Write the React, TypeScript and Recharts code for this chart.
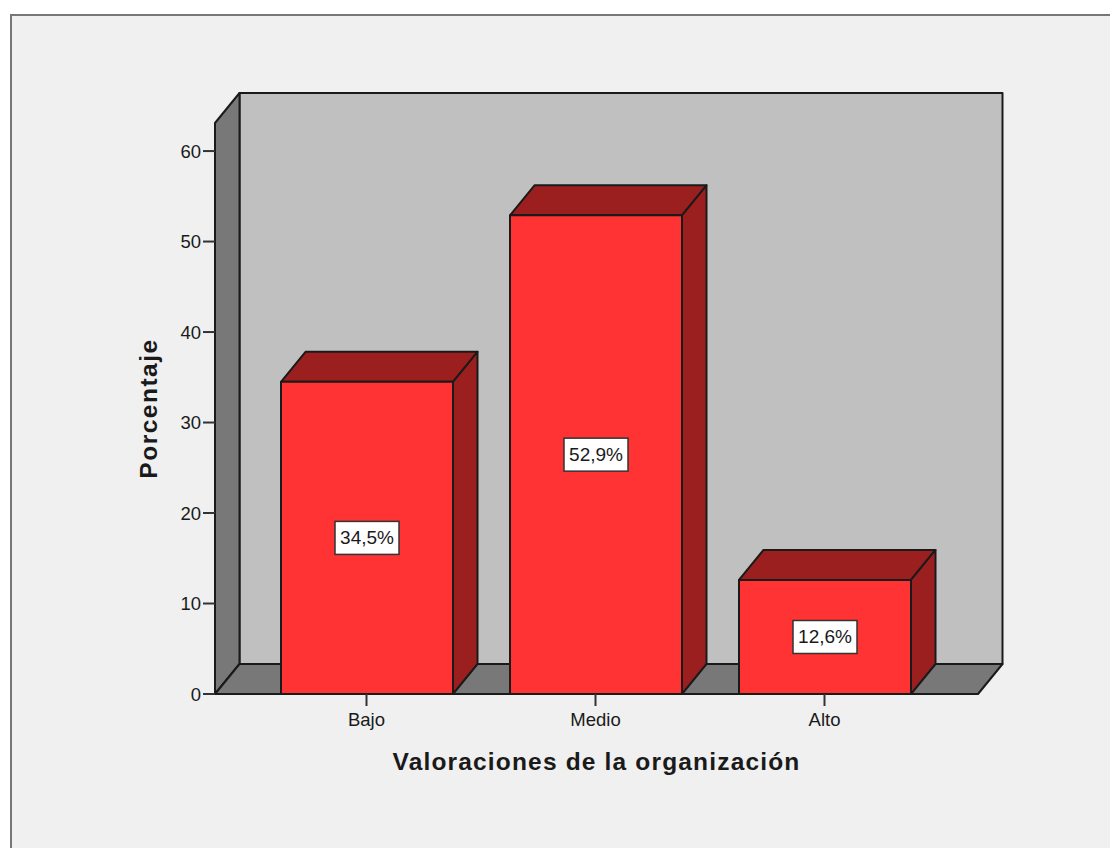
import React from "react";
import {
  BarChart,
  Bar,
  XAxis,
  YAxis,
  LabelList,
  ReferenceArea,
} from "recharts";

const categories = ["Bajo", "Medio", "Alto"];
const percentages = [34.5, 52.9, 12.6];
const yTicks = [0, 10, 20, 30, 40, 50, 60];
const Y_MAX = 63.1;

const data = categories.map((name, i) => ({ name, value: percentages[i] }));

// depth of the fake 3D projection
const DX = 24.5;
const DY = 30;
const PAD_LEFT = 37;
const PAD_RIGHT = 39;
const EDGE = "#1a1a1a";
const FONT = "'Liberation Sans', Arial, sans-serif";

// side wall, floor and back wall behind the bars
// the area only spans the padded range of the x axis, so widen it back out
const Walls = ({ x: areaX, y, width: areaWidth, height }: any) => {
  const x = areaX - PAD_LEFT;
  const right = areaX + areaWidth + PAD_RIGHT;
  const bottom = y + height;
  return (
    <g stroke={EDGE} strokeWidth={2} strokeLinejoin="round">
      <polygon
        points={`${x + DX},${y - DY} ${right + DX},${y - DY} ${right + DX},${bottom - DY} ${x + DX},${bottom - DY}`}
        fill="#c0c0c0"
      />
      <polygon
        points={`${x},${y} ${x + DX},${y - DY} ${x + DX},${bottom - DY} ${x},${bottom}`}
        fill="#787878"
      />
      <polygon
        points={`${x},${bottom} ${x + DX},${bottom - DY} ${right + DX},${bottom - DY} ${right},${bottom}`}
        fill="#787878"
      />
    </g>
  );
};

const Bar3D = ({ x, y, width, height }: any) => (
  <g stroke={EDGE} strokeWidth={2} strokeLinejoin="round">
    <polygon
      points={`${x},${y} ${x + DX},${y - DY} ${x + width + DX},${y - DY} ${x + width},${y}`}
      fill="#9c1f1f"
    />
    <polygon
      points={`${x + width},${y} ${x + width + DX},${y - DY} ${x + width + DX},${y + height - DY} ${x + width},${y + height}`}
      fill="#9c1f1f"
    />
    <rect x={x} y={y} width={width} height={height} fill="#ff3333" />
  </g>
);

const ValueBox = ({ x, y, width, height, value }: any) => {
  const cx = x + width / 2;
  const cy = y + height / 2;
  return (
    <g>
      <rect
        x={cx - 32}
        y={cy - 16.5}
        width={64}
        height={33}
        fill="#ffffff"
        stroke="#333333"
        strokeWidth={1.5}
      />
      <text
        x={cx}
        y={cy + 6.5}
        textAnchor="middle"
        fontFamily={FONT}
        fontSize={19}
        fill="#1a1a1a"
      >
        {`${String(value).replace(".", ",")}%`}
      </text>
    </g>
  );
};

export default function App() {
  return (
    <div
      style={{
        position: "absolute",
        left: 0,
        top: 0,
        width: 1110,
        height: 848,
        background: "#ffffff",
        overflow: "hidden",
      }}
    >
      <div
        style={{
          position: "absolute",
          left: 10,
          top: 14,
          width: 1100,
          height: 834,
          boxSizing: "border-box",
          background: "#f0f0f0",
          borderLeft: "2px solid #777777",
          borderTop: "2px solid #777777",
        }}
      />
      <div style={{ position: "absolute", left: 0, top: 0 }}>
        <BarChart
          width={1110}
          height={848}
          data={data}
          barSize={172}
          margin={{ top: 123, right: 132, bottom: 0, left: 0 }}
        >
          <ReferenceArea y1={0} y2={Y_MAX} shape={<Walls />} />
          <XAxis
            dataKey="name"
            height={154}
            padding={{ left: PAD_LEFT, right: PAD_RIGHT }}
            axisLine={{ stroke: EDGE, strokeWidth: 2 }}
            tickLine={{ stroke: "#333333", strokeWidth: 2 }}
            tickSize={12}
            tickMargin={7}
            tick={{ fontFamily: FONT, fontSize: 18.5, fill: "#1a1a1a" }}
            label={{
              value: "Valoraciones de la organización",
              position: "insideTop",
              offset: 59,
              style: {
                fontFamily: FONT,
                fontSize: 24.5,
                fontWeight: 700,
                letterSpacing: 1.17,
                fill: "#1a1a1a",
              },
            }}
          />
          <YAxis
            width={215}
            domain={[0, Y_MAX]}
            ticks={yTicks}
            axisLine={{ stroke: EDGE, strokeWidth: 2 }}
            tickLine={{ stroke: "#333333", strokeWidth: 2 }}
            tickSize={12}
            tickMargin={2}
            tick={{ fontFamily: FONT, fontSize: 18.5, fill: "#1a1a1a" }}
            label={{
              value: "Porcentaje",
              angle: -90,
              position: "insideLeft",
              offset: 148,
              style: {
                fontFamily: FONT,
                fontSize: 24.5,
                fontWeight: 700,
                letterSpacing: 1.5,
                textAnchor: "middle",
                fill: "#1a1a1a",
              },
            }}
          />
          <Bar dataKey="value" shape={<Bar3D />} isAnimationActive={false}>
            <LabelList dataKey="value" content={<ValueBox />} />
          </Bar>
        </BarChart>
      </div>
    </div>
  );
}
